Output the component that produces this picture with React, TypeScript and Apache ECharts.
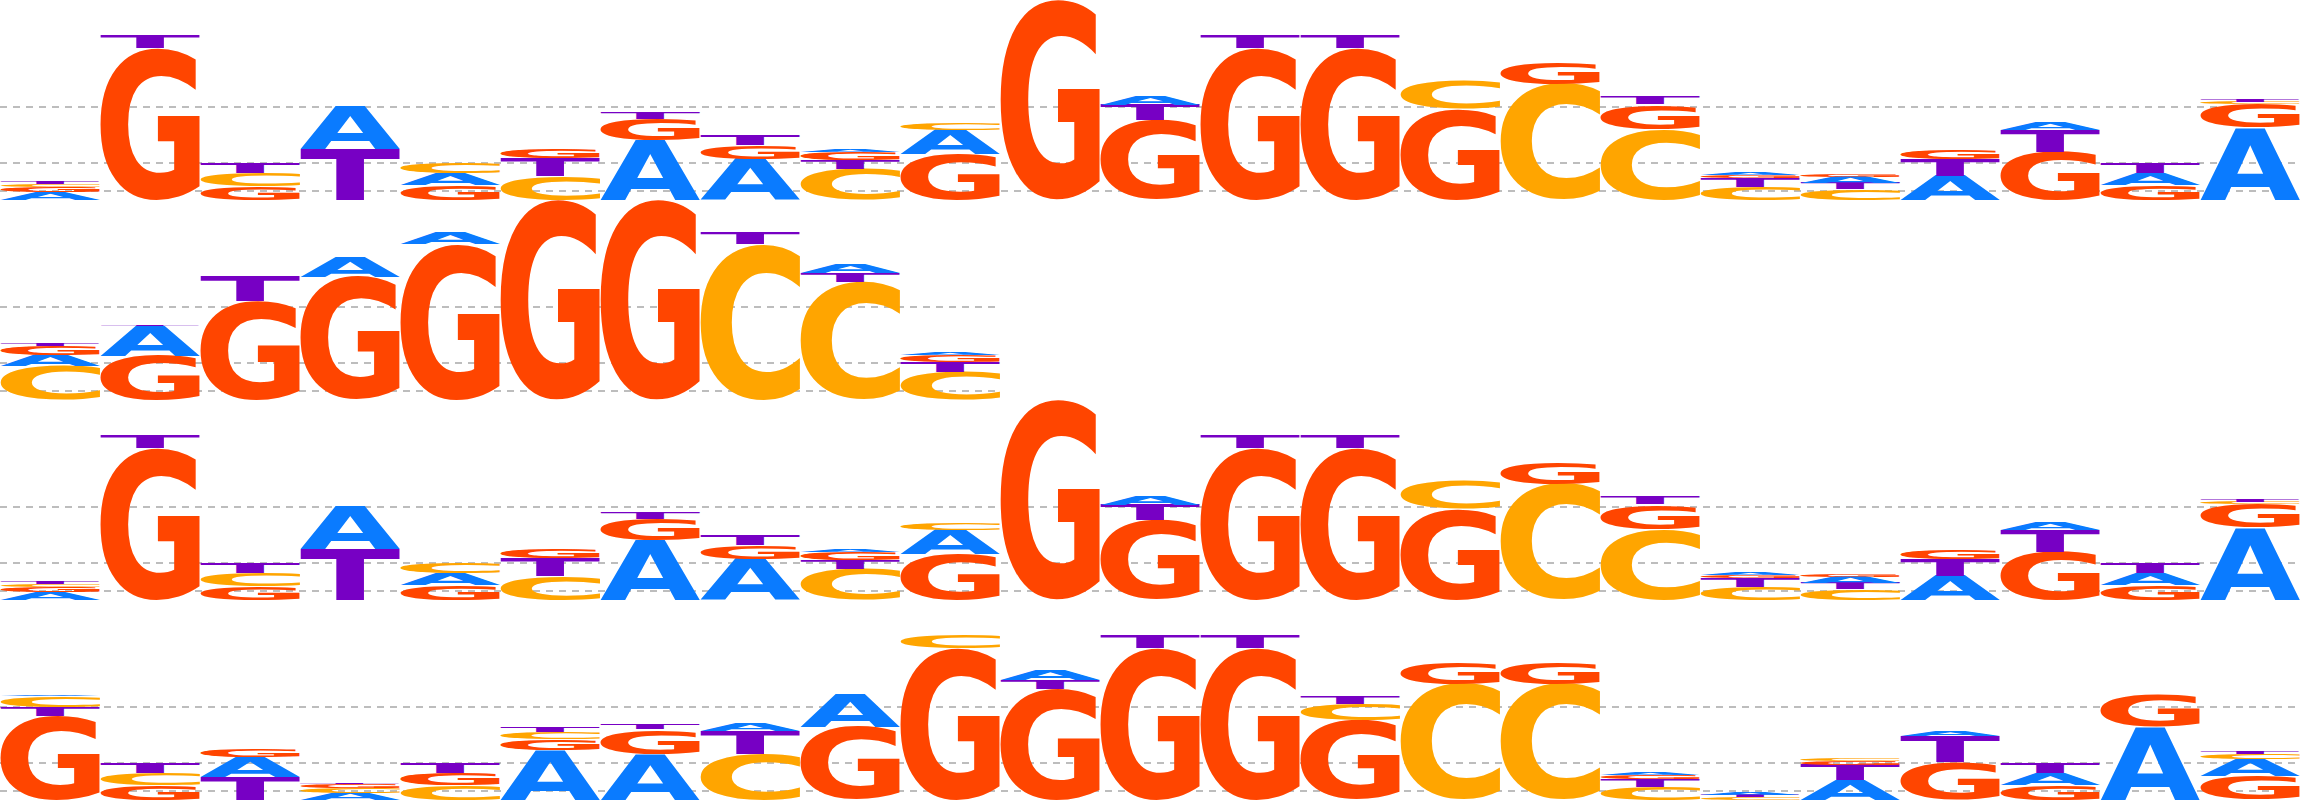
// Stacked sequence logos (four rows) drawn with an ECharts custom series

import { useEffect, useRef } from 'react';
import * as echarts from 'echarts';

type Stack = [string, number][];

const bases = ['A', 'C', 'G', 'T'];
const baseColors: Record<string, string> = {
    A: '#0a7bff',
    C: '#ffa500',
    G: '#ff4500',
    T: '#7700c4',
};

// each column lists letters bottom to top, heights in bits
const rowOne: Stack[] = [
    [['A', 0.08], ['G', 0.05], ['C', 0.03], ['T', 0.02]],
    [['G', 1.52], ['T', 0.13]],
    [['G', 0.14], ['C', 0.13], ['T', 0.10]],
    [['T', 0.51], ['A', 0.43]],
    [['G', 0.15], ['A', 0.12], ['C', 0.10]],
    [['C', 0.24], ['T', 0.18], ['G', 0.09]],
    [['A', 0.60], ['G', 0.21], ['T', 0.06]],
    [['A', 0.41], ['G', 0.14], ['T', 0.10]],
    [['C', 0.31], ['T', 0.09], ['G', 0.08], ['A', 0.03]],
    [['G', 0.46], ['A', 0.24], ['C', 0.06]],
    [['G', 2.0]],
    [['G', 0.80], ['T', 0.15], ['A', 0.09]],
    [['G', 1.52], ['T', 0.13]],
    [['G', 1.52], ['T', 0.13]],
    [['G', 0.91], ['C', 0.28]],
    [['C', 1.16], ['G', 0.21]],
    [['C', 0.71], ['G', 0.25], ['T', 0.08]],
    [['C', 0.13], ['T', 0.09], ['G', 0.03], ['A', 0.02]],
    [['C', 0.11], ['T', 0.06], ['A', 0.06], ['G', 0.02]],
    [['A', 0.24], ['T', 0.17], ['G', 0.09]],
    [['G', 0.48], ['T', 0.22], ['A', 0.07]],
    [['G', 0.15], ['A', 0.12], ['T', 0.10]],
    [['A', 0.72], ['G', 0.24], ['C', 0.02], ['T', 0.02]],
];

const rowTwo: Stack[] = [
    [['C', 0.34], ['A', 0.11], ['G', 0.09], ['T', 0.02]],
    [['G', 0.44], ['A', 0.30], ['T', 0.015]],
    [['G', 0.99], ['T', 0.25]],
    [['G', 1.23], ['A', 0.19]],
    [['G', 1.56], ['A', 0.12]],
    [['G', 2.0]],
    [['G', 2.0]],
    [['C', 1.56], ['T', 0.12]],
    [['C', 1.18], ['T', 0.09], ['A', 0.09]],
    [['C', 0.28], ['T', 0.10], ['G', 0.07], ['A', 0.03]],
];

const rowThree: Stack[] = [
    [['A', 0.08], ['G', 0.05], ['C', 0.03], ['T', 0.02]],
    [['G', 1.52], ['T', 0.13]],
    [['G', 0.14], ['C', 0.13], ['T', 0.10]],
    [['T', 0.51], ['A', 0.43]],
    [['G', 0.15], ['A', 0.12], ['C', 0.10]],
    [['C', 0.24], ['T', 0.18], ['G', 0.09]],
    [['A', 0.60], ['G', 0.21], ['T', 0.06]],
    [['A', 0.41], ['G', 0.14], ['T', 0.10]],
    [['C', 0.31], ['T', 0.09], ['G', 0.08], ['A', 0.03]],
    [['G', 0.46], ['A', 0.24], ['C', 0.06]],
    [['G', 2.0]],
    [['G', 0.80], ['T', 0.15], ['A', 0.09]],
    [['G', 1.52], ['T', 0.13]],
    [['G', 1.52], ['T', 0.13]],
    [['G', 0.91], ['C', 0.28]],
    [['C', 1.16], ['G', 0.21]],
    [['C', 0.71], ['G', 0.25], ['T', 0.08]],
    [['C', 0.13], ['T', 0.09], ['G', 0.03], ['A', 0.02]],
    [['C', 0.11], ['T', 0.06], ['A', 0.06], ['G', 0.02]],
    [['A', 0.24], ['T', 0.17], ['G', 0.09]],
    [['G', 0.48], ['T', 0.22], ['A', 0.07]],
    [['G', 0.15], ['A', 0.12], ['T', 0.10]],
    [['A', 0.72], ['G', 0.24], ['C', 0.02], ['T', 0.02]],
];

const rowFour: Stack[] = [
    [['G', 0.84], ['T', 0.09], ['C', 0.11], ['A', 0.01]],
    [['G', 0.15], ['C', 0.12], ['T', 0.10]],
    [['T', 0.23], ['A', 0.20], ['G', 0.08]],
    [['A', 0.07], ['C', 0.05], ['G', 0.04], ['T', 0.01]],
    [['C', 0.15], ['G', 0.12], ['T', 0.10]],
    [['A', 0.50], ['G', 0.11], ['C', 0.07], ['T', 0.05]],
    [['A', 0.46], ['G', 0.25], ['T', 0.05]],
    [['C', 0.46], ['T', 0.23], ['A', 0.07]],
    [['G', 0.73], ['A', 0.33]],
    [['G', 1.52], ['C', 0.13]],
    [['G', 1.11], ['T', 0.09], ['A', 0.10]],
    [['G', 1.52], ['T', 0.13]],
    [['G', 1.52], ['T', 0.13]],
    [['G', 0.80], ['C', 0.16], ['T', 0.08]],
    [['C', 1.16], ['G', 0.21]],
    [['C', 1.16], ['G', 0.21]],
    [['C', 0.13], ['T', 0.08], ['G', 0.04], ['A', 0.02]],
    [['C', 0.03], ['T', 0.02], ['A', 0.03]],
    [['A', 0.20], ['T', 0.15], ['G', 0.04], ['C', 0.02]],
    [['G', 0.38], ['T', 0.26], ['A', 0.05]],
    [['G', 0.15], ['A', 0.12], ['T', 0.10]],
    [['A', 0.73], ['G', 0.33]],
    [['G', 0.24], ['A', 0.17], ['C', 0.05], ['T', 0.02]],
];

const logoRows = [rowOne, rowTwo, rowThree, rowFour];
const guideValues = [0.09, 0.367, 0.933];
const yMax = 2;

const FONT = 'bold 200px "DejaVu Sans"';

// distance from the SVG "central" baseline (which zrender uses) down to the alphabetic one
function centralToAlphabetic(): number {
    const ns = 'http://www.w3.org/2000/svg';
    const probe = document.createElementNS(ns, 'svg');
    probe.setAttribute('width', '400');
    probe.setAttribute('height', '600');
    probe.style.position = 'absolute';
    probe.style.left = '-2000px';
    probe.style.top = '0';
    probe.style.visibility = 'hidden';
    const make = (baseline: string) => {
        const t = document.createElementNS(ns, 'text');
        t.setAttribute('x', '0');
        t.setAttribute('y', '300');
        t.setAttribute('dominant-baseline', baseline);
        t.style.font = FONT;
        t.textContent = 'G';
        probe.appendChild(t);
        return t;
    };
    const central = make('central');
    const alpha = make('alphabetic');
    document.body.appendChild(probe);
    const shift = central.getBBox().y - alpha.getBBox().y;
    document.body.removeChild(probe);
    return shift;
}

export default function App() {
    const chartRef = useRef<HTMLDivElement>(null);

    useEffect(() => {
        if (!chartRef.current) return;

        // ink bounds of each glyph, so letters can be stretched to fill their box
        const ctx = document.createElement('canvas').getContext('2d')!;
        ctx.font = FONT;
        ctx.textAlign = 'left';
        ctx.textBaseline = 'alphabetic';
        const glyph: Record<string, { l: number; r: number; a: number; d: number }> = {};
        bases.forEach((b) => {
            const m = ctx.measureText(b);
            glyph[b] = {
                l: m.actualBoundingBoxLeft,
                r: m.actualBoundingBoxRight,
                a: m.actualBoundingBoxAscent,
                d: m.actualBoundingBoxDescent,
            };
        });
        const shift = centralToAlphabetic();

        const chart = echarts.init(chartRef.current, null, { renderer: 'svg' });

        const rowHeight = 200;
        const colWidth = 100;

        const renderItem = (_params: any, api: any) => {
            const col = api.value(0) as number;
            const topLeft = api.coord([col, api.value(2)]);
            const bottomRight = api.coord([col + 1, api.value(1)]);
            const base = bases[api.value(3) as number];
            const g = glyph[base];
            const w = bottomRight[0] - topLeft[0];
            const h = bottomRight[1] - topLeft[1];
            if (h <= 0) return null;
            const sx = w / (g.l + g.r);
            const sy = h / (g.a + g.d);
            return {
                type: 'text',
                x: topLeft[0] + g.l * sx,
                y: topLeft[1] + (g.a - shift) * sy,
                scaleX: sx,
                scaleY: sy,
                style: {
                    text: base,
                    x: 0,
                    y: 0,
                    font: FONT,
                    fill: baseColors[base],
                    textAlign: 'left',
                    textVerticalAlign: 'middle',
                    align: 'left',
                    verticalAlign: 'middle',
                },
            };
        };

        const series = logoRows.map((row, i) => {
            const data: number[][] = [];
            row.forEach((stack, col) => {
                let y = 0;
                stack.forEach(([b, v]) => {
                    data.push([col, y, y + v, bases.indexOf(b)]);
                    y += v;
                });
            });
            return {
                type: 'custom' as const,
                xAxisIndex: i,
                yAxisIndex: i,
                z: 10,
                silent: true,
                clip: false,
                encode: { x: 0, y: [1, 2] },
                renderItem,
                data,
                markLine: {
                    silent: true,
                    symbol: ['none', 'none'],
                    label: { show: false },
                    z: 1,
                    lineStyle: { type: [7, 6], color: '#bdbdbd', width: 2 },
                    emphasis: { disabled: true },
                    data: guideValues.map((v) => ({ yAxis: v })),
                },
            };
        });

        const option: any = {
            animation: false,
            backgroundColor: '#ffffff',
            grid: logoRows.map((row, i) => ({
                left: 0,
                top: i * rowHeight,
                width: row.length * colWidth,
                height: rowHeight,
            })),
            xAxis: logoRows.map((row, i) => ({
                type: 'value',
                gridIndex: i,
                min: 0,
                max: row.length,
                show: false,
            })),
            yAxis: logoRows.map((_row, i) => ({
                type: 'value',
                gridIndex: i,
                min: 0,
                max: yMax,
                show: false,
            })),
            series,
        };

        chart.setOption(option, { notMerge: true });

        return () => {
            chart.dispose();
        };
    }, []);

    return (
        <div
            ref={chartRef}
            style={{ position: 'absolute', left: 0, top: 0, width: '2300px', height: '800px' }}
        />
    );
}
